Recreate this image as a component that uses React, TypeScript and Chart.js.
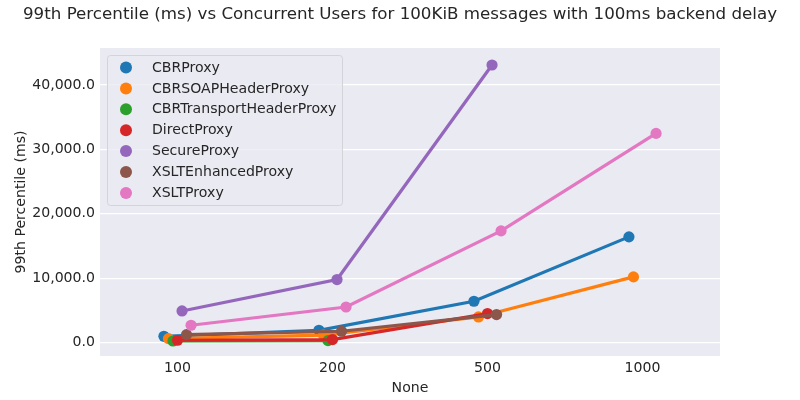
import React, { useEffect, useRef } from "react";
import { Chart, registerables } from "chart.js";

Chart.register(...registerables);

// ---- data ----
const categories = ["100", "200", "500", "1000"];
const seriesNames = [
  "CBRProxy",
  "CBRSOAPHeaderProxy",
  "CBRTransportHeaderProxy",
  "DirectProxy",
  "SecureProxy",
  "XSLTEnhancedProxy",
  "XSLTProxy",
];
const cbrProxy = [980, 1910, 6420, 16420];
const cbrSoapHeaderProxy = [620, 1150, 3980, 10200];
const cbrTransportHeaderProxy = [250, 300, null, null];
const directProxy = [360, 470, 4510, null];
const secureProxy = [4910, 9790, 43110, null];
const xsltEnhancedProxy = [1240, 1760, 4350, null];
const xsltProxy = [2690, 5530, 17350, 32490];
const yTickValues = [0, 10000, 20000, 30000, 40000];

const seriesValues: (number | null)[][] = [
  cbrProxy,
  cbrSoapHeaderProxy,
  cbrTransportHeaderProxy,
  directProxy,
  secureProxy,
  xsltEnhancedProxy,
  xsltProxy,
];

const colors = ["#1f77b4", "#ff7f0e", "#2ca02c", "#d62728", "#9467bd", "#8c564b", "#e377c2"];

const FONT = "'DejaVu Sans', sans-serif";
const TEXT = "#262626";
const DODGE = 0.175;
const FS = 14.1;

const decorPlugin = {
  id: "decor",
  beforeDraw(chart: any) {
    const { ctx, chartArea: a } = chart;
    ctx.save();
    ctx.fillStyle = "#ffffff";
    ctx.fillRect(0, 0, chart.width, chart.height);
    ctx.fillStyle = "#EAEAF2";
    ctx.fillRect(a.left, a.top, a.right - a.left, a.bottom - a.top);
    ctx.restore();
  },
  afterDraw(chart: any) {
    const { ctx } = chart;
    ctx.save();
    // title
    ctx.fillStyle = TEXT;
    ctx.font = `16.7px ${FONT}`;
    ctx.textAlign = "center";
    ctx.textBaseline = "middle";
    ctx.fillText(
      "99th Percentile (ms) vs Concurrent Users for 100KiB messages with 100ms backend delay",
      400,
      15
    );
    // legend
    const a = chart.chartArea;
    const bx = a.left + 7.5;
    const by = a.top + 7.5;
    const bw = 235;
    const bh = 150;
    const r = 3;
    ctx.beginPath();
    ctx.moveTo(bx + r, by);
    ctx.arcTo(bx + bw, by, bx + bw, by + bh, r);
    ctx.arcTo(bx + bw, by + bh, bx, by + bh, r);
    ctx.arcTo(bx, by + bh, bx, by, r);
    ctx.arcTo(bx, by, bx + bw, by, r);
    ctx.closePath();
    ctx.fillStyle = "rgba(234,234,242,0.8)";
    ctx.fill();
    ctx.strokeStyle = "#d3d3da";
    ctx.lineWidth = 1;
    ctx.stroke();
    ctx.font = `${FS}px ${FONT}`;
    ctx.textAlign = "left";
    ctx.textBaseline = "middle";
    chart.data.datasets.forEach((ds: any, i: number) => {
      const y = by + 12 + i * 20.9;
      ctx.beginPath();
      ctx.arc(bx + 18.5, y, 6, 0, Math.PI * 2);
      ctx.fillStyle = ds.borderColor;
      ctx.fill();
      ctx.fillStyle = TEXT;
      ctx.fillText(ds.label, bx + 44.5, y + 0.5);
    });
    ctx.restore();
  },
};

export default function App() {
  const canvasRef = useRef<HTMLCanvasElement | null>(null);

  useEffect(() => {
    document.body.style.margin = "0";
    const canvas = canvasRef.current;
    if (!canvas) return;
    const n = seriesNames.length;
    const datasets = seriesNames.map((name, s) => {
      const off = (s / (n - 1) - 0.5) * DODGE;
      const pts = categories
        .map((_, ci) => ({ x: ci + off, y: seriesValues[s][ci] }))
        .filter((p) => p.y !== null);
      return {
        label: name,
        data: pts,
        showLine: true,
        borderColor: colors[s],
        backgroundColor: colors[s],
        pointBackgroundColor: colors[s],
        pointBorderColor: colors[s],
        borderWidth: 3.2,
        pointRadius: 5.6,
        pointHoverRadius: 5.6,
        pointBorderWidth: 0,
        order: -s,
      };
    });

    const chart = new Chart(canvas, {
      type: "scatter",
      data: { datasets: datasets as any },
      options: {
        animation: false,
        responsive: false,
        devicePixelRatio: 1,
        layout: { padding: { top: 48, right: 80, left: 0, bottom: 0 } },
        plugins: {
          legend: { display: false },
          title: { display: false },
          tooltip: { enabled: false },
        },
        scales: {
          x: {
            type: "linear",
            min: -0.5,
            max: 3.5,
            afterBuildTicks: (scale: any) => {
              scale.ticks = categories.map((_, i) => ({ value: i }));
            },
            afterFit: (scale: any) => {
              scale.height = 44;
            },
            grid: { display: false, drawTicks: false },
            border: { display: false },
            ticks: {
              color: TEXT,
              font: { family: FONT, size: FS },
              padding: 4,
              maxRotation: 0,
              callback: (v: any) => categories[Math.round(Number(v))] ?? "",
            },
            title: {
              display: true,
              text: "None",
              color: TEXT,
              font: { family: FONT, size: FS },
              padding: { top: 0, bottom: 3 },
            },
          },
          y: {
            type: "linear",
            min: -2083,
            max: 45750,
            afterBuildTicks: (scale: any) => {
              scale.ticks = yTickValues.map((v) => ({ value: v }));
            },
            afterFit: (scale: any) => {
              scale.width = 100;
            },
            grid: { color: "#ffffff", lineWidth: 1.2, drawTicks: false },
            border: { display: false },
            ticks: {
              color: TEXT,
              font: { family: FONT, size: FS },
              padding: 5,
              callback: (v: any) =>
                Number(v).toLocaleString("en-US", {
                  minimumFractionDigits: 1,
                  maximumFractionDigits: 1,
                }),
            },
            title: {
              display: true,
              text: "99th Percentile (ms)",
              color: TEXT,
              font: { family: FONT, size: FS },
              padding: { top: 13, bottom: 0 },
            },
          },
        },
      },
      plugins: [decorPlugin],
    });
    return () => chart.destroy();
  }, []);

  return (
    <div style={{ position: "absolute", left: 0, top: 0, width: 800, height: 400 }}>
      <canvas ref={canvasRef} width={800} height={400} style={{ width: 800, height: 400 }} />
    </div>
  );
}
